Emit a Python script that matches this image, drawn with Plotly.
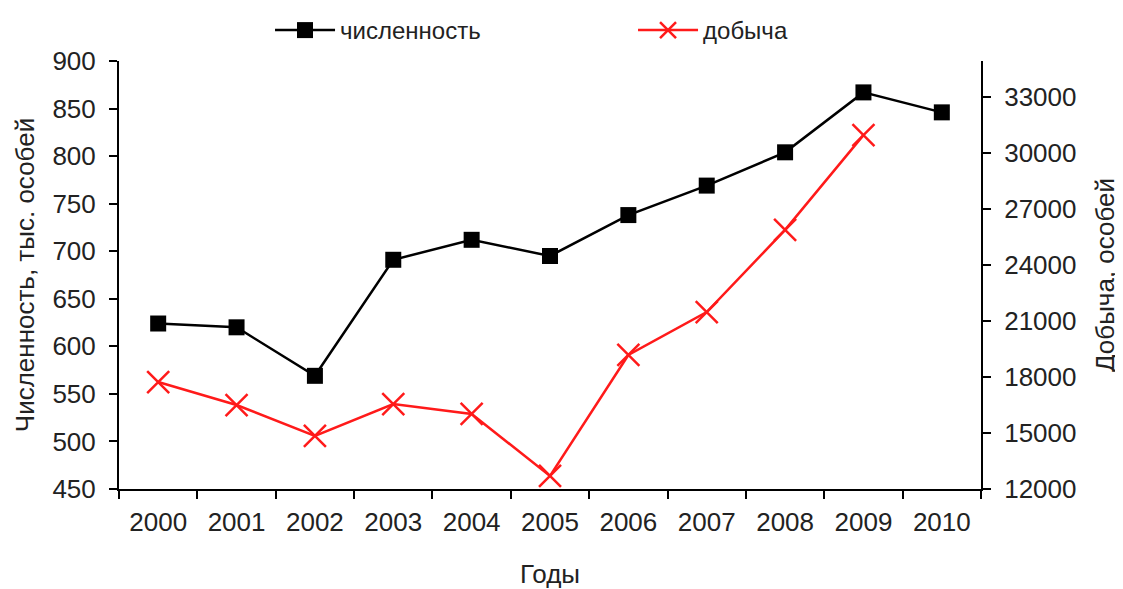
import plotly.graph_objects as go

years = ["2000", "2001", "2002", "2003", "2004", "2005", "2006", "2007", "2008", "2009", "2010"]
population = [624, 620, 569, 691, 712, 695, 738, 769, 804, 867, 846]
harvest_years = ["2000", "2001", "2002", "2003", "2004", "2005", "2006", "2007", "2008", "2009"]
harvest = [17730, 16500, 14840, 16550, 16020, 12700, 19180, 21480, 25880, 30960]

left_ticks = [450, 500, 550, 600, 650, 700, 750, 800, 850, 900]
right_ticks = [12000, 15000, 18000, 21000, 24000, 27000, 30000, 33000]

FONT = "Liberation Sans, Arial, sans-serif"
TXT = "#222222"
FS = 26

fig = go.Figure()
fig.add_trace(go.Scatter(
    x=years, y=population, name="численность", mode="lines+markers",
    line=dict(color="black", width=2.5),
    marker=dict(symbol="square", size=16, color="black"),
))
fig.add_trace(go.Scatter(
    x=harvest_years, y=harvest, name="добыча", mode="lines+markers", yaxis="y2",
    line=dict(color="#ff1a1a", width=2.5),
    marker=dict(symbol="x-thin", size=22, color="#ff1a1a", line=dict(color="#ff1a1a", width=2.5)),
))

fig.update_layout(
    width=1115, height=581,
    margin=dict(l=111, r=142, t=53, b=100, autoexpand=False),
    paper_bgcolor="white", plot_bgcolor="white",
    font=dict(family=FONT, size=FS, color=TXT),
    showlegend=True,
    legend=dict(orientation="h", x=0.235, y=1.0, xref="container", yref="container",
                xanchor="left", yanchor="top",
                font=dict(size=24, color=TXT), entrywidth=288, itemwidth=60,
                bgcolor="rgba(0,0,0,0)"),
    xaxis=dict(
        type="category", categoryorder="array", categoryarray=years,
        range=[-0.5, 10.5],
        tickson="boundaries", ticks="outside", ticklen=8, tickwidth=2, tickcolor="black",
        showline=True, linecolor="black", linewidth=2, showgrid=False, zeroline=False,
        automargin=False, ticklabelstandoff=9,
        title=dict(text="Годы", font=dict(size=FS, color=TXT), standoff=37),
        tickfont=dict(size=FS, color=TXT),
    ),
    yaxis=dict(
        range=[450, 900], tickvals=left_ticks, ticks="outside", ticklen=8, tickwidth=2,
        tickcolor="black", showline=True, linecolor="black", linewidth=2,
        showgrid=False, zeroline=False, automargin=False, ticklabelstandoff=8,
        title=dict(text="Численность, тыс. особей", font=dict(size=FS, color=TXT), standoff=10),
        tickfont=dict(size=FS, color=TXT),
    ),
    yaxis2=dict(
        range=[12000, 34930], tickvals=right_ticks, tickformat="d", overlaying="y", side="right",
        ticks="outside", ticklen=8, tickwidth=2, tickcolor="black",
        showline=True, linecolor="black", linewidth=2, showgrid=False, zeroline=False,
        automargin=False, ticklabelstandoff=8,
        title=dict(text="Добыча, особей", font=dict(size=FS, color=TXT), standoff=20),
        tickfont=dict(size=FS, color=TXT),
    ),
)

fig.write_html("out.html")
